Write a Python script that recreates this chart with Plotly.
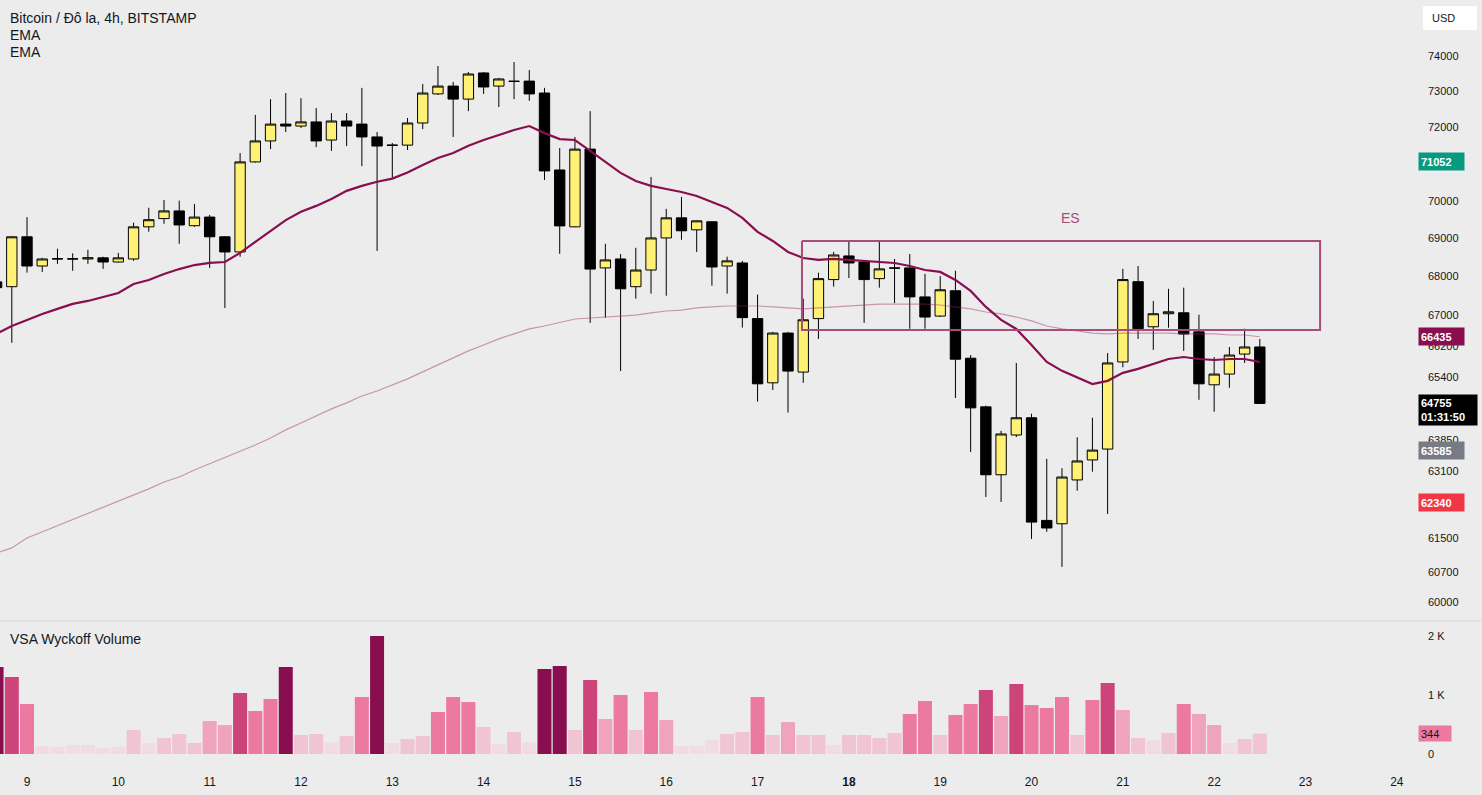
import math
import pandas as pd
import plotly.graph_objects as go

# 4h candles, BITSTAMP BTC/USD, from 8 Mar 16:00 to 22 Mar 12:00
bar_times = pd.date_range("2024-03-08 16:00", periods=84, freq="4h")

opens = [
    67850, 67725, 69035, 68265, 68450, 68455, 68450, 68480, 68370, 68450,
    69300, 69520, 69725, 69330, 69560, 69035, 68635, 71050, 71625, 72090,
    72035, 72150, 71650, 72175, 72090, 71735, 71500, 71510, 72120, 72930,
    73150, 72785, 73520, 73150, 73290, 73290, 72955, 70830, 69300, 71400,
    68215, 68450, 67725, 68160, 69005, 69540, 69220, 69435, 68265, 68345,
    66900, 65270, 66530, 65540, 66900, 67910, 68530, 68370, 67935, 68215,
    68215, 67460, 66965, 67620, 65890, 64670, 63005, 63975, 64400, 61910,
    61830, 62880, 63365, 63630, 65795, 67855, 66690, 67025, 67050, 66560,
    65220, 65490, 65995, 66175,
]
highs = [
    67900, 69050, 69560, 68480, 68720, 68600, 68690, 68510, 68610, 69410,
    69810, 70020, 70000, 69910, 69620, 69050, 71290, 72345, 72785, 72955,
    72810, 72535, 72395, 72395, 73100, 71870, 71570, 72260, 73210, 73715,
    73265, 73545, 73545, 73380, 73830, 73600, 73100, 71430, 71735, 72450,
    68850, 68580, 68745, 70640, 69780, 70100, 69470, 69440, 68510, 68400,
    67520, 66560, 66560, 67415, 68090, 68635, 68900, 68380, 68930, 68450,
    68580, 68060, 68000, 68140, 65970, 64700, 64080, 65770, 64500, 63390,
    63165, 63920, 64400, 66020, 68190, 68265, 67355, 67670, 67700, 67000,
    65920, 66175, 66640, 66380,
]
lows = [
    67600, 66280, 68090, 68110, 68320, 68140, 68320, 68190, 68360, 68400,
    69170, 69380, 68850, 69300, 68215, 67175, 68510, 71030, 71400, 71870,
    71980, 71455, 71350, 71485, 70935, 68660, 70590, 71375, 71950, 72900,
    71735, 72450, 72930, 72565, 72785, 72735, 70560, 68585, 69290, 66790,
    66925, 65565, 67415, 67545, 67490, 68955, 68635, 67750, 67545, 66670,
    64800, 65090, 64530, 65270, 66380, 67725, 67950, 66790, 67700, 67300,
    66640, 66640, 66940, 64890, 63560, 62470, 62350, 63925, 61470, 61640,
    60815, 62620, 63080, 62065, 65660, 66380, 66100, 66665, 66075, 64845,
    64550, 65145, 65770, 64740,
]
closes = [
    67700, 69035, 68265, 68450, 68455, 68450, 68480, 68370, 68480, 69300,
    69490, 69725, 69350, 69560, 69035, 68635, 71050, 71625, 72090, 72035,
    72150, 71625, 72175, 72035, 71735, 71485, 71510, 72120, 72955, 73150,
    72785, 73490, 73125, 73350, 73280, 72930, 70805, 69325, 71400, 68185,
    68425, 67670, 68160, 69005, 69540, 69195, 69460, 68240, 68400, 66925,
    65245, 66530, 65565, 66870, 67935, 68555, 68345, 67910, 68190, 68210,
    67460, 66940, 67645, 65865, 64645, 63005, 64000, 64400, 61870, 61730,
    62950, 63340, 63605, 65770, 67910, 66640, 67025, 67075, 66505, 65245,
    65490, 65970, 66175, 64755,
]

ema_fast = [
    66510, 66710, 66865, 67020, 67150, 67280, 67355, 67460, 67560, 67795,
    67900, 68055, 68185, 68290, 68345, 68370, 68610, 68900, 69190, 69480,
    69700, 69860, 70045, 70265, 70400, 70510, 70595, 70760, 70965, 71155,
    71295, 71490, 71650, 71790, 71925, 72035, 71840, 71675, 71650, 71350,
    71045, 70750, 70530, 70400, 70315, 70235, 70125, 69965, 69805, 69540,
    69165, 68925, 68635, 68475, 68425, 68450, 68425, 68395, 68370, 68345,
    68265, 68160, 68110, 67900, 67615, 67200, 66865, 66635, 66225, 65795,
    65570, 65395, 65240, 65320, 65520, 65620, 65745, 65870, 65920, 65870,
    65845, 65870, 65870, 65795,
]
ema_slow = [
    61140, 61260, 61495, 61640, 61780, 61920, 62065, 62210, 62355, 62520,
    62665, 62830, 62950, 63120, 63270, 63415, 63560, 63730, 63900, 64100,
    64270, 64445, 64620, 64770, 64940, 65065, 65215, 65370, 65545, 65720,
    65900, 66075, 66225, 66380, 66510, 66635, 66710, 66790, 66890, 66915,
    66940, 66965, 66990, 67045, 67095, 67120, 67175, 67200, 67225, 67225,
    67225, 67200, 67175, 67150, 67175, 67200, 67225, 67250, 67275, 67275,
    67275, 67275, 67250, 67200, 67150, 67070, 67020, 66940, 66840, 66710,
    66635, 66585, 66530, 66510, 66530, 66530, 66530, 66530, 66510, 66510,
    66510, 66480, 66480, 66435,
]

volumes = [
    1475, 1305, 847, 136, 119, 153, 153, 102, 119, 407,
    186, 271, 339, 186, 559, 491, 1034, 729, 932, 1475,
    322, 339, 203, 305, 966, 2000, 186, 254, 305, 712,
    966, 881, 458, 169, 373, 203, 1441, 1492, 407, 1254,
    593, 1000, 407, 1051, 576, 136, 136, 237, 339, 373,
    966, 322, 542, 322, 322, 153, 322, 322, 271, 356,
    678, 898, 322, 661, 847, 1085, 644, 1186, 830, 780,
    966, 322, 915, 1203, 746, 271, 237, 356, 847, 678,
    491, 186, 254, 344,
]
# VSA Wyckoff volume class of each bar
vol_class = [
    "ultra", "very_high", "high", "low", "low", "low", "low", "low", "low", "normal",
    "low", "normal", "normal", "normal", "above", "above", "very_high", "high", "high", "ultra",
    "normal", "normal", "low", "normal", "high", "ultra", "low", "normal", "normal", "high",
    "high", "high", "normal", "low", "normal", "low", "ultra", "ultra", "normal", "very_high",
    "above", "high", "normal", "high", "above", "low", "low", "low", "normal", "normal",
    "high", "normal", "above", "normal", "normal", "low", "normal", "normal", "normal", "normal",
    "high", "high", "normal", "high", "high", "very_high", "above", "very_high", "high", "high",
    "high", "normal", "high", "very_high", "above", "normal", "low", "normal", "high", "above",
    "above", "low", "normal", "normal",
]

# drawn zone "ES"
es_start = "2024-03-17 11:40"
es_end = "2024-03-23 03:50"
es_top = 68925
es_bottom = 66610

price_ticks = [74000, 73000, 72000, 70000, 69000, 68000, 67000, 66200,
               65400, 63850, 63100, 61500, 60700, 60000]
day_ticks = pd.date_range("2024-03-09", "2024-03-24", freq="D")
day_labels = [str(d.day) for d in day_ticks]

# price scale labels: value, background, text colour
price_tags = [
    (71052, "#089981", "white"),
    (66435, "#880e4f", "white"),
    (63585, "#787b86", "white"),
    (62340, "#f23645", "white"),
]
last_price = 64755
countdown = "01:31:50"

vsa_colors = {
    "low": "#f2dce4",
    "normal": "#f1c4d3",
    "above": "#f0a3bd",
    "high": "#ec7aa0",
    "very_high": "#cc4479",
    "ultra": "#880e4f",
}

FONT = "Liberation Sans, Arial, sans-serif"
TEXT = "#131722"
BG = "#ececec"
W, H = 1482, 795
M_R, M_B = 68, 30
PLOT_W, PLOT_H = W - M_R, H - M_B

fig = go.Figure()

fig.add_trace(
    go.Candlestick(
        x=bar_times,
        open=opens,
        high=highs,
        low=lows,
        close=closes,
        increasing=dict(fillcolor="#fff176", line=dict(color="#000000", width=1)),
        decreasing=dict(fillcolor="#000000", line=dict(color="#000000", width=1)),
        whiskerwidth=0,
        showlegend=False,
        hoverinfo="skip",
        yaxis="y",
    )
)
fig.add_trace(
    go.Scatter(
        x=bar_times, y=ema_slow, mode="lines",
        line=dict(color="rgba(160,40,100,0.45)", width=1.2),
        showlegend=False, hoverinfo="skip", yaxis="y",
    )
)
fig.add_trace(
    go.Scatter(
        x=bar_times, y=ema_fast, mode="lines",
        line=dict(color="#880e4f", width=2.2),
        showlegend=False, hoverinfo="skip", yaxis="y",
    )
)
fig.add_trace(
    go.Scatter(
        x=[es_start, es_end, es_end, es_start, es_start],
        y=[es_top, es_top, es_bottom, es_bottom, es_top],
        mode="lines",
        line=dict(color="#a64d79", width=2),
        showlegend=False, hoverinfo="skip", yaxis="y",
    )
)
fig.add_trace(
    go.Bar(
        x=bar_times, y=volumes,
        marker=dict(color=[vsa_colors[c] for c in vol_class], line=dict(width=0)),
        showlegend=False, hoverinfo="skip", yaxis="y2",
    )
)

# log price axis: y=0px -> top of range, y=620px -> bottom
log_top = math.log10(74000) + 56 / 5995
log_bot = math.log10(60000) - 18 / 5995

price_dom = [(PLOT_H - 620) / PLOT_H, 1]
vol_dom = [0, (PLOT_H - 622) / PLOT_H]

fig.update_layout(
    width=W,
    height=H,
    margin=dict(l=0, r=M_R, t=0, b=M_B),
    paper_bgcolor=BG,
    plot_bgcolor=BG,
    font=dict(family=FONT, color=TEXT, size=11),
    bargap=0.08,
    boxgap=0.32,
    boxgroupgap=0,
    xaxis=dict(
        type="date",
        range=["2024-03-08 16:54", "2024-03-24 04:31"],
        rangeslider=dict(visible=False),
        showgrid=False,
        zeroline=False,
        showline=False,
        tickvals=list(day_ticks),
        ticktext=["<b>18</b>" if t == "18" else t for t in day_labels],
        tickfont=dict(size=12, color=TEXT),
        ticks="",
        ticklabelstandoff=8,
        anchor="y2",
        fixedrange=True,
    ),
    yaxis=dict(
        type="log",
        domain=price_dom,
        range=[log_bot, log_top],
        side="right",
        showgrid=False,
        zeroline=False,
        showline=False,
        tickvals=price_ticks,
        ticktext=[str(v) for v in price_ticks],
        tickfont=dict(size=11, color=TEXT),
        ticks="",
        ticklabelstandoff=13,
        anchor="x",
    ),
    yaxis2=dict(
        domain=vol_dom,
        range=[-186, 2237],
        side="right",
        showgrid=False,
        zeroline=False,
        showline=False,
        tickvals=[0, 1000, 2000],
        ticktext=["0", "1 K", "2 K"],
        tickfont=dict(size=11, color=TEXT),
        ticks="",
        ticklabelstandoff=13,
        anchor="x",
    ),
)

px_x = lambda px: px / PLOT_W
px_y = lambda px: (PLOT_H - px) / PLOT_H

# pane separator
fig.add_shape(type="line", xref="paper", yref="paper",
              x0=0, x1=W / PLOT_W, y0=px_y(621), y1=px_y(621),
              line=dict(color="#dfe1e8", width=1.5))

# currency box
fig.add_shape(type="rect", xref="paper", yref="paper",
              x0=px_x(1423), x1=px_x(1477), y0=px_y(30), y1=px_y(6),
              fillcolor="white", line=dict(width=0))
fig.add_annotation(xref="paper", yref="paper", x=px_x(1430), y=px_y(18),
                   xanchor="left", yanchor="middle", text="USD", showarrow=False,
                   font=dict(size=11, color=TEXT))

# pane titles
for txt, ypx in [("Bitcoin / Đô la, 4h, BITSTAMP", 18), ("EMA", 35), ("EMA", 52),
                 ("VSA Wyckoff Volume", 639)]:
    fig.add_annotation(xref="paper", yref="paper", x=px_x(8), y=px_y(ypx),
                       xanchor="left", yanchor="middle", text=txt, showarrow=False,
                       font=dict(size=14, color=TEXT))

fig.add_annotation(x="2024-03-20 10:20", y=math.log10(69540), text="ES",
                   showarrow=False, font=dict(size=14, color="#a64d79"))

# price scale tags
for val, bg, fg in price_tags:
    fig.add_annotation(xref="paper", yref="y", x=px_x(1418), y=math.log10(val),
                       xanchor="left", yanchor="middle", text=f"<b>{val}</b>",
                       showarrow=False, bgcolor=bg, borderpad=2,
                       width=41, height=13, align="left",
                       font=dict(size=11, color=fg))
fig.add_annotation(xref="paper", yref="y", x=px_x(1418), y=math.log10(last_price),
                   xanchor="left", yanchor="top", yshift=9,
                   text=f"<b>{last_price}</b><br><b>{countdown}</b>", showarrow=False,
                   bgcolor="#000000", borderpad=2, width=54, height=26, align="left",
                   font=dict(size=11, color="white"))
fig.add_annotation(xref="paper", yref="y2", x=px_x(1418), y=volumes[-1],
                   xanchor="left", yanchor="middle", text=str(volumes[-1]),
                   showarrow=False, bgcolor=vsa_colors["high"], borderpad=2,
                   width=28, height=11, align="left",
                   font=dict(size=11, color=TEXT))

fig.write_html("out.html", config={"displayModeBar": False},
               post_script="document.body.style.margin='0';")
